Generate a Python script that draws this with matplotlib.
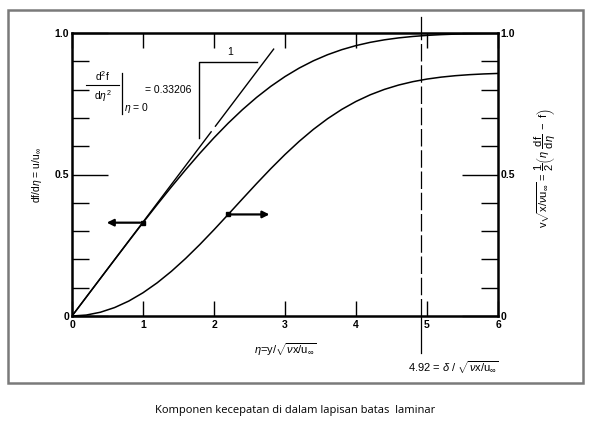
import matplotlib.pyplot as plt
from matplotlib.patches import Rectangle, FancyArrowPatch

# Blasius solution (eta step 0.2)
eta = [0.0, 0.2, 0.4, 0.6, 0.8, 1.0, 1.2, 1.4, 1.6, 1.8, 2.0, 2.2, 2.4, 2.6, 2.8, 3.0,
       3.2, 3.4, 3.6, 3.8, 4.0, 4.2, 4.4, 4.6, 4.8, 5.0, 5.2, 5.4, 5.6, 5.8, 6.0]
u_ratio = [0.0, 0.06641, 0.13277, 0.19894, 0.26471, 0.32979, 0.39378, 0.45627, 0.51676,
           0.57477, 0.62977, 0.68132, 0.72899, 0.77246, 0.81152, 0.84605, 0.87609,
           0.90177, 0.92333, 0.94112, 0.95552, 0.96696, 0.97587, 0.98269, 0.98779,
           0.99155, 0.99425, 0.99616, 0.99748, 0.99838, 0.99898]
v_ratio = [0.0, 0.00332, 0.01327, 0.02981, 0.05283, 0.08211, 0.11729, 0.15790, 0.20325,
           0.25253, 0.30476, 0.35885, 0.41364, 0.46794, 0.52063, 0.57067, 0.61719,
           0.65953, 0.69722, 0.73010, 0.75816, 0.78159, 0.80072, 0.81606, 0.82803,
           0.83723, 0.84411, 0.84916, 0.85279, 0.85535, 0.85712]

wall_slope = 0.33206
delta_eta = 4.92
tangent_parts = [(0.0, 1.96), (2.02, 2.84)]
u_marker = (1.0, 0.32979)
v_marker = (2.2, 0.35885)

plt.rcParams['font.family'] = ['Liberation Sans', 'DejaVu Sans']
plt.rcParams['mathtext.fontset'] = 'custom'
plt.rcParams['mathtext.rm'] = 'Liberation Sans'
plt.rcParams['mathtext.it'] = 'Liberation Sans:italic'

fig = plt.figure(figsize=(5.98, 4.29), dpi=100)
ax = fig.add_axes([72 / 598, 1 - 316 / 429, (498 - 72) / 598, (316 - 33) / 429])

ax.plot(eta, u_ratio, color='black', lw=1.1)
ax.plot(eta, v_ratio, color='black', lw=1.1)
for a, b in tangent_parts:
    ax.plot([a, b], [wall_slope * a, wall_slope * b], color='black', lw=1.0)

# slope triangle
ax.plot([1.79, 1.79, 2.61], [0.63, 0.898, 0.898], color='black', lw=1.0)
ax.text(2.23, 0.915, '1', fontsize=7.5, ha='center', va='bottom')

# markers + arrows
ax.plot(*u_marker, 's', color='black', ms=3.5)
ax.plot(*v_marker, 's', color='black', ms=3.5)
ax.add_patch(FancyArrowPatch(u_marker, (0.45, u_marker[1]), arrowstyle='-|>',
                             mutation_scale=10, lw=1.6, color='black'))
ax.add_patch(FancyArrowPatch(v_marker, (2.82, v_marker[1]), arrowstyle='-|>',
                             mutation_scale=10, lw=1.6, color='black'))

# delta line
ax.axvline(delta_eta, color='black', lw=0.9, dashes=(14, 3))
ax.plot([delta_eta, delta_eta], [1.0, 1.055], color='black', lw=0.9, clip_on=False)
ax.plot([delta_eta, delta_eta], [0.0, -0.13], color='black', lw=0.9, clip_on=False)

# wall derivative annotation
ax.text(0.43, 0.847, r'd$^2$f', fontsize=7.5, ha='center', va='center')
ax.plot([0.2, 0.66], [0.815, 0.815], color='black', lw=0.8)
ax.text(0.43, 0.778, r'd$\eta^2$', fontsize=7.5, ha='center', va='center')
ax.plot([0.7, 0.7], [0.715, 0.86], color='black', lw=0.9)
ax.text(0.73, 0.735, r'$\eta$ = 0', fontsize=7.5, ha='left', va='center')
ax.text(1.03, 0.8, '= 0.33206', fontsize=7.5, ha='left', va='center')

ax.set_xlim(0, 6)
ax.set_ylim(0, 1)
for s in ax.spines.values():
    s.set_linewidth(1.8)
ax.set_xticks([0, 1, 2, 3, 4, 5, 6])
ax.set_yticks([0, 0.5, 1.0])
ax.set_yticklabels(['0', '0.5', '1.0'])
ax.set_yticks([0.1 * i for i in range(1, 10) if i != 5], minor=True)
ax.tick_params(axis='both', which='both', direction='in', labelsize=7.5, width=1.0,
               colors='black')
ax.tick_params(axis='x', which='major', length=11, top=True, pad=3)
ax.tick_params(axis='y', which='major', length=26, right=True, labelright=True, pad=2)
ax.tick_params(axis='y', which='minor', length=12, right=True)
for lbl in ax.get_xticklabels() + ax.get_yticklabels() + ax.get_yticklabels(which='major'):
    lbl.set_fontweight('bold')
for lbl in ax.yaxis.get_majorticklabels():
    lbl.set_fontweight('bold')
for t in ax.yaxis.get_major_ticks():
    t.label2.set_fontweight('bold')

ax.set_xlabel(r'$\eta$=y/$\sqrt{\nu\mathrm{x/u}_\infty}$', fontsize=8, labelpad=8)
ax.set_ylabel(r'df/d$\eta$ = u/u$_\infty$', fontsize=7.5, labelpad=8)

fig.text(545 / 598, 1 - 168 / 429,
         r'v$\sqrt{\mathrm{x}/\nu\mathrm{u}_\infty}$ = $\dfrac{1}{2}$'
         r'$\left(\eta\ \dfrac{\mathrm{df}}{\mathrm{d}\eta}\ -\ \mathrm{f}\right)$',
         rotation=90, fontsize=8, ha='center', va='center')
fig.text(453 / 598, 1 - 368 / 429,
         r'4.92 = $\delta$ / $\sqrt{\nu\mathrm{x/u}_\infty}$',
         fontsize=8, ha='center', va='center')

# outer gray frame
fig.patches.append(Rectangle((8 / 598, 1 - 383 / 429), (583 - 8) / 598, (383 - 10) / 429,
                             transform=fig.transFigure, fill=False, edgecolor='#7a7a7a',
                             lw=1.8))
fig.text(295 / 598, 1 - 410 / 429, 'Komponen kecepatan di dalam lapisan batas  laminar',
         fontsize=8, ha='center', va='center', family=['Open Sans', 'DejaVu Sans'])

fig.savefig('out.png', dpi=100)
